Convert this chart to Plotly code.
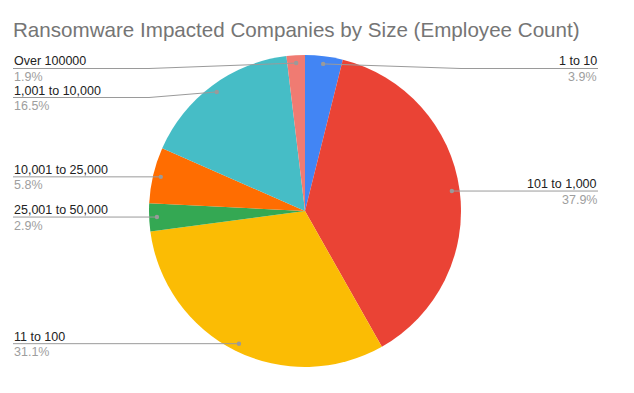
import math
import plotly.graph_objects as go

# ---- data ----
labels = ["1 to 10", "101 to 1,000", "11 to 100", "25,001 to 50,000",
          "10,001 to 25,000", "1,001 to 10,000", "Over 100000"]
values = [3.9, 37.9, 31.1, 2.9, 5.8, 16.5, 1.9]
colors = ["#4285F4", "#EA4335", "#FBBC04", "#34A853", "#FF6D01", "#46BDC6", "#F07B72"]
title = "Ransomware Impacted Companies by Size (Employee Count)"

# ---- layout constants (pixels in the final screenshot) ----
W, H = 634, 393
OFF = 8  # page body margin offset of the plot div
CX, CY, R = 305, 211, 156
LEFT_X, RIGHT_X = 13, 598
MIN_LINE_Y, GAP = 68.5, 29
FONT = "Arial, Liberation Sans, sans-serif"


def px(x):
    return (x - OFF) / W


def py(y):
    return 1 - (y - OFF) / H


fig = go.Figure(go.Pie(
    labels=labels, values=values, sort=False, direction="clockwise", rotation=0,
    marker=dict(colors=colors, line=dict(width=0)),
    textinfo="none", hoverinfo="label+percent", showlegend=False,
    domain=dict(x=[px(CX - R), px(CX + R)], y=[py(CY + R), py(CY - R)]),
))

total = sum(values)
cum = 0.0
items = []
for lab, v in zip(labels, values):
    mid = (cum + v / 2) / total * 2 * math.pi
    cum += v
    dx = CX + 0.95 * R * math.sin(mid)
    dy = CY - 0.95 * R * math.cos(mid)
    side = "right" if math.sin(mid) > 0 else "left"
    items.append(dict(label=lab, pct=f"{v / total * 100:.1f}%", dx=dx, dy=dy, side=side))

shapes, annotations = [], []
for side in ("left", "right"):
    group = sorted([it for it in items if it["side"] == side], key=lambda d: d["dy"])
    prev = -1e9
    for it in group:
        ly = max(it["dy"], MIN_LINE_Y, prev + GAP)
        prev = ly
        if side == "left":
            x_edge, kink = LEFT_X, min(CX - R, it["dx"])
            xanchor = "left"
        else:
            x_edge, kink = RIGHT_X, max(CX + R, it["dx"])
            xanchor = "right"
        line = dict(color="#9a9a9a", width=1)
        shapes.append(dict(type="line", xref="paper", yref="paper",
                           x0=px(x_edge), y0=py(ly), x1=px(kink), y1=py(ly),
                           line=line, layer="above"))
        shapes.append(dict(type="line", xref="paper", yref="paper",
                           x0=px(kink), y0=py(ly), x1=px(it["dx"]), y1=py(it["dy"]),
                           line=line, layer="above"))
        rr = 2.2
        shapes.append(dict(type="circle", xref="paper", yref="paper",
                           x0=px(it["dx"] - rr), x1=px(it["dx"] + rr),
                           y0=py(it["dy"] - rr), y1=py(it["dy"] + rr),
                           fillcolor="#9a9a9a", line=dict(width=0), layer="above"))
        annotations.append(dict(xref="paper", yref="paper", x=px(x_edge), y=py(ly + 1),
                                xanchor=xanchor, yanchor="bottom", showarrow=False,
                                text=it["label"], font=dict(family=FONT, size=12.5, color="#222222"),
                                borderpad=0))
        annotations.append(dict(xref="paper", yref="paper", x=px(x_edge), y=py(ly + 0.5),
                                xanchor=xanchor, yanchor="top", showarrow=False,
                                text=it["pct"], font=dict(family=FONT, size=12.5, color="#9e9e9e"),
                                borderpad=0))

fig.update_layout(
    width=W, height=H, margin=dict(l=0, r=0, t=0, b=0),
    paper_bgcolor="white", plot_bgcolor="white",
    title=dict(text=title, x=px(13), xanchor="left", xref="paper",
               y=py(30), yanchor="middle", yref="paper",
               font=dict(family=FONT, size=20.6, color="#757575")),
    shapes=shapes, annotations=annotations,
)

fig.write_html("out.html")
